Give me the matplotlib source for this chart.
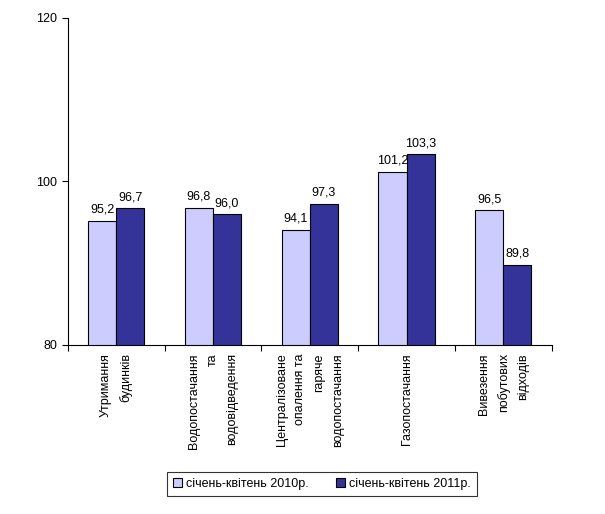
import matplotlib.pyplot as plt
import numpy as np

plt.rcParams['font.family'] = ['Liberation Sans', 'DejaVu Sans']

# Дані
categories = ['Утримання\nбудинків',
              'Водопостачання\nта\nводовідведення',
              'Централізоване\nопалення та\nгаряче\nводопостачання',
              'Газопостачання',
              'Вивезення\nпобутових\nвідходів']
values_2010 = [95.2, 96.8, 94.1, 101.2, 96.5]
values_2011 = [96.7, 96.0, 97.3, 103.3, 89.8]
series_names = ['січень-квітень 2010р.', 'січень-квітень 2011р.']

fig = plt.figure(figsize=(6.05, 5.14), dpi=100)
ax = fig.add_axes([0.112, 0.329, 0.8, 0.636])

x = np.arange(len(categories))
w = 0.29
b1 = ax.bar(x - w / 2, values_2010, w, color='#CCCCFF', edgecolor='black', linewidth=0.8, label=series_names[0])
b2 = ax.bar(x + w / 2, values_2011, w, color='#333399', edgecolor='black', linewidth=0.8, label=series_names[1])

for bars, vals in ((b1, values_2010), (b2, values_2011)):
    for r, v in zip(bars, vals):
        ax.text(r.get_x() + r.get_width() / 2, v + 0.6, f'{v:.1f}'.replace('.', ','),
                ha='center', va='bottom', fontsize=9)

ax.set_ylim(80, 120)
ax.set_yticks([80, 100, 120])
ax.set_xlim(-0.5, len(categories) - 0.5)
ax.set_xticks(np.arange(len(categories) + 1) - 0.5, minor=False)
ax.set_xticklabels([])
ax.set_xticks(x, minor=True)
ax.set_xticklabels(categories, minor=True, rotation=90, fontsize=9,
                   va='top', ha='center', multialignment='right', linespacing=1.75)
ax.tick_params(axis='x', which='minor', length=0, pad=6)
ax.tick_params(axis='x', which='major', length=4, direction='out')
ax.tick_params(axis='y', length=4, labelsize=9)
ax.spines['top'].set_visible(False)
ax.spines['right'].set_visible(False)

leg = fig.legend(loc='center', bbox_to_anchor=(0.532, 0.058), ncol=2, fontsize=9,
                 frameon=True, fancybox=False, edgecolor='black', handlelength=0.7,
                 handleheight=0.7, columnspacing=2.2, handletextpad=0.3, borderpad=0.5)
leg.get_frame().set_linewidth(0.8)

fig.savefig('out.png', dpi=100)
